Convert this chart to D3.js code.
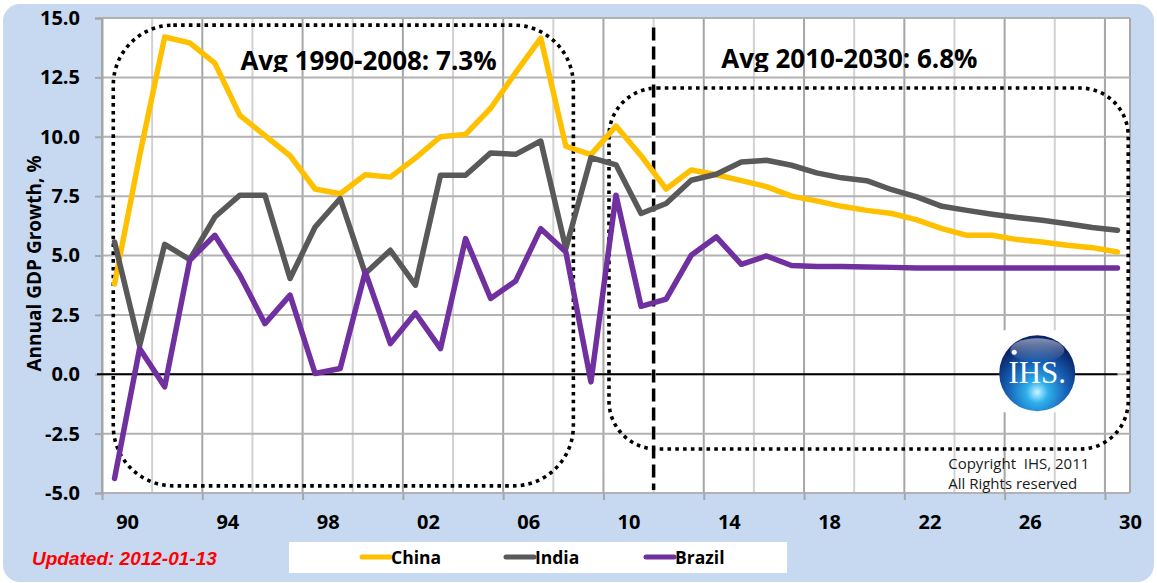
<!DOCTYPE html>
<html>
<head>
<meta charset="utf-8">
<script src="https://cdn.jsdelivr.net/npm/d3@7"></script>
<style>
  body { margin: 0; background: #fff; }
  svg { display: block; }
  text { font-family: "Open Sans", "Noto Sans", sans-serif; }
</style>
</head>
<body>
<svg id="chart" width="1157" height="583"></svg>
<script>
// categories: one per year
const years = [1990, 1991, 1992, 1993, 1994, 1995, 1996, 1997, 1998, 1999,
               2000, 2001, 2002, 2003, 2004, 2005, 2006, 2007, 2008, 2009,
               2010, 2011, 2012, 2013, 2014, 2015, 2016, 2017, 2018, 2019,
               2020, 2021, 2022, 2023, 2024, 2025, 2026, 2027, 2028, 2029, 2030];

// annual GDP growth, %
const china = [3.8, 9.2, 14.2, 13.95, 13.1, 10.9, 10.05, 9.2, 7.8, 7.6,
               8.4, 8.3, 9.1, 10.0, 10.1, 11.2, 12.7, 14.15, 9.6, 9.25,
               10.45, 9.2, 7.8, 8.6, 8.4, 8.15, 7.9, 7.5, 7.3, 7.07,
               6.9, 6.77, 6.5, 6.13, 5.85, 5.85, 5.67, 5.57, 5.43, 5.33, 5.15];
const india = [5.57, 1.2, 5.47, 4.83, 6.62, 7.54, 7.54, 4.03, 6.2, 7.4,
               4.24, 5.22, 3.75, 8.38, 8.38, 9.32, 9.26, 9.82, 5.29, 9.12,
               8.82, 6.77, 7.19, 8.17, 8.42, 8.94, 9.01, 8.8, 8.48, 8.27,
               8.15, 7.77, 7.47, 7.07, 6.9, 6.74, 6.6, 6.48, 6.34, 6.18, 6.06];
const brazil = [-4.39, 1.08, -0.53, 4.8, 5.85, 4.17, 2.13, 3.33, 0.03, 0.24,
                4.31, 1.29, 2.58, 1.08, 5.71, 3.19, 3.93, 6.13, 5.15, -0.32,
                7.54, 2.86, 3.16, 5.01, 5.78, 4.63, 4.98, 4.58, 4.54, 4.54,
                4.52, 4.5, 4.47, 4.47, 4.47, 4.47, 4.47, 4.47, 4.47, 4.47, 4.47];

const seriesNames = ["China", "India", "Brazil"];
const seriesColors = ["#FFC000", "#595959", "#7030A0"];

const yTicks = [-5, -2.5, 0, 2.5, 5, 7.5, 10, 12.5, 15];
const xLabelYears = [1990, 1994, 1998, 2002, 2006, 2010, 2014, 2018, 2022, 2026, 2030];

const width = 1157;
const height = 583;
const marginTop = 18;
const marginRight = 27;
const marginBottom = 90;
const marginLeft = 102;

const svg = d3.select("#chart");

// x: each year sits in the middle of its category slot
const xScale = d3.scaleLinear()
    .domain([years[0] - 0.5, years[years.length - 1] + 0.5])
    .range([marginLeft, width - marginRight]);

const yScale = d3.scaleLinear()
    .domain([-5, 15])
    .range([height - marginBottom, marginTop]);

const plotL = xScale.range()[0], plotR = xScale.range()[1];
const plotT = yScale.range()[1], plotB = yScale.range()[0];

// background panel
svg.append("rect")
    .attr("x", 3).attr("y", 4)
    .attr("width", width - 6).attr("height", height - 5)
    .attr("rx", 17)
    .attr("fill", "#C6D9F1");

svg.append("rect")
    .attr("x", plotL).attr("y", plotT)
    .attr("width", plotR - plotL).attr("height", plotB - plotT)
    .attr("fill", "#fff");

// vertical grid: every 2 categories, darker every 4
const grid = svg.append("g");
const boundaries = d3.range(0, years.length + 1, 2).concat([years.length]);
grid.selectAll("line.v")
    .data(boundaries)
    .join("line")
    .attr("class", "v")
    .attr("x1", (i) => xScale(years[0] - 0.5 + i))
    .attr("x2", (i) => xScale(years[0] - 0.5 + i))
    .attr("y1", plotT).attr("y2", plotB)
    .attr("stroke", (i) => (i % 4 === 0 || i === years.length) ? "#A6A6A6" : "#D2D2D2")
    .attr("stroke-width", 2);

grid.selectAll("line.h")
    .data(yTicks)
    .join("line")
    .attr("class", "h")
    .attr("x1", plotL).attr("x2", plotR)
    .attr("y1", (d) => yScale(d)).attr("y2", (d) => yScale(d))
    .attr("stroke", "#B2B2B2")
    .attr("stroke-width", 2);

// y axis
const yAxis = svg.append("g")
    .attr("transform", `translate(${plotL},0)`)
    .call(d3.axisLeft(yScale).tickValues(yTicks).tickSize(7).tickFormat((d) => d.toFixed(1)));
yAxis.select(".domain").attr("stroke", "#A6A6A6").attr("stroke-width", 2);
yAxis.selectAll(".tick line").attr("stroke", "#A6A6A6").attr("stroke-width", 2);
yAxis.selectAll(".tick text")
    .attr("x", -22)
    .attr("fill", "#000")
    .style("font-size", "20px")
    .style("font-weight", "bold");

// x axis: tick marks at slot starts, labels shifted half a slot right
const xTicks = svg.append("g")
    .attr("transform", `translate(0,${plotB})`)
    .call(d3.axisBottom(xScale).tickValues(xLabelYears.map((y) => y - 0.5)).tickSize(7).tickFormat(""));
xTicks.select(".domain").remove();
xTicks.selectAll(".tick line").attr("stroke", "#A6A6A6").attr("stroke-width", 2);

const xLabels = svg.append("g")
    .attr("transform", `translate(0,${plotB})`)
    .call(d3.axisBottom(xScale).tickValues(xLabelYears.map((y) => y + 0.5)).tickSize(0)
        .tickFormat((d) => String(d - 0.5).slice(2)));
xLabels.select(".domain").remove();
xLabels.selectAll(".tick text")
    .attr("y", 22)
    .attr("fill", "#000")
    .style("font-size", "20px")
    .style("font-weight", "bold");

// y axis title
svg.append("text")
    .attr("transform", `translate(41,${(plotT + plotB) / 2 + 8}) rotate(-90)`)
    .attr("text-anchor", "middle")
    .style("font-size", "19px")
    .style("font-weight", "bold")
    .text("Annual GDP Growth, %");

// IHS logo backdrop (hides the grid behind it)
const logoX = xScale(2026.8), logoY = yScale(0);
svg.append("rect")
    .attr("x", logoX - 40).attr("y", logoY - 44)
    .attr("width", 80).attr("height", 82)
    .attr("fill", "#fff");

// zero line
svg.append("line")
    .attr("x1", plotL - 5).attr("x2", xScale(2030))
    .attr("y1", yScale(0)).attr("y2", yScale(0))
    .attr("stroke", "#000").attr("stroke-width", 2);

// logo sphere
const defs = svg.append("defs");
const grad = defs.append("radialGradient").attr("id", "sphere")
    .attr("cx", "50%").attr("cy", "75%").attr("r", "65%");
grad.append("stop").attr("offset", "0%").attr("stop-color", "#C8F6FF");
grad.append("stop").attr("offset", "22%").attr("stop-color", "#2FB0EC");
grad.append("stop").attr("offset", "60%").attr("stop-color", "#1760B5");
grad.append("stop").attr("offset", "100%").attr("stop-color", "#0A2468");
const shine = defs.append("linearGradient").attr("id", "shine")
    .attr("x1", 0).attr("y1", 0).attr("x2", 0).attr("y2", 1);
shine.append("stop").attr("offset", "0%").attr("stop-color", "#fff").attr("stop-opacity", 0.5);
shine.append("stop").attr("offset", "100%").attr("stop-color", "#fff").attr("stop-opacity", 0);

svg.append("circle")
    .attr("cx", logoX).attr("cy", logoY - 1).attr("r", 38)
    .attr("fill", "url(#sphere)");
svg.append("ellipse")
    .attr("cx", logoX).attr("cy", logoY - 24).attr("rx", 27).attr("ry", 12)
    .attr("fill", "url(#shine)");
svg.append("text")
    .attr("x", logoX).attr("y", logoY + 9)
    .attr("text-anchor", "middle")
    .attr("fill", "#fff")
    .style("font-family", "'Liberation Serif', serif")
    .style("font-size", "31px")
    .text("IHS.");
svg.append("circle")
    .attr("cx", logoX - 23).attr("cy", logoY - 22).attr("r", 2.5)
    .attr("fill", "#fff");

// dotted period boxes
const boxes = [
  { x0: 1989.95, x1: 2008.3, y0: 14.7, y1: -4.7, r: 60 },
  { x0: 2009.72, x1: 2030.43, y0: 12.05, y1: -3.15, r: 48 }
];
svg.selectAll("rect.box")
    .data(boxes)
    .join("rect")
    .attr("class", "box")
    .attr("x", (d) => xScale(d.x0)).attr("y", (d) => yScale(d.y0))
    .attr("width", (d) => xScale(d.x1) - xScale(d.x0))
    .attr("height", (d) => yScale(d.y1) - yScale(d.y0))
    .attr("rx", (d) => d.r)
    .attr("fill", "none")
    .attr("stroke", "#000")
    .attr("stroke-width", 3.6)
    .attr("stroke-dasharray", "3.6 4.2");

// forecast divider
const divX = xScale(2011.5);
svg.append("line")
    .attr("x1", divX).attr("x2", divX)
    .attr("y1", yScale(14.6)).attr("y2", plotB - 3)
    .attr("stroke", "#fff").attr("stroke-width", 4);
svg.append("line")
    .attr("x1", divX).attr("x2", divX)
    .attr("y1", yScale(14.6)).attr("y2", plotB - 3)
    .attr("stroke", "#000").attr("stroke-width", 3.5)
    .attr("stroke-dasharray", "13 6");

// series lines
const line = d3.line()
    .x((d, i) => xScale(years[i]))
    .y((d) => yScale(d));

const seriesData = [china, india, brazil];
svg.append("g")
    .selectAll("path")
    .data(seriesData)
    .join("path")
    .attr("d", (d) => line(d))
    .attr("fill", "none")
    .attr("stroke", (d, i) => seriesColors[i])
    .attr("stroke-width", 5.5)
    .attr("stroke-linejoin", "round")
    .attr("stroke-linecap", "round");

// period averages, clipped at the bottom like the original text boxes
defs.append("clipPath").attr("id", "titleClip")
    .append("rect").attr("x", 0).attr("y", 0).attr("width", width).attr("height", 72);
const notes = svg.append("g").attr("clip-path", "url(#titleClip)");
notes.append("text")
    .attr("x", xScale(1995.02)).attr("y", 70)
    .style("font-size", "26px").style("font-weight", "bold")
    .text("Avg 1990-2008: 7.3%");
notes.append("text")
    .attr("x", xScale(2014.2)).attr("y", 68)
    .style("font-size", "26px").style("font-weight", "bold")
    .text("Avg 2010-2030: 6.8%");

// copyright
const copyX = xScale(2023.25);
const copy = svg.append("text")
    .attr("x", copyX).attr("y", 469)
    .attr("fill", "#1a1a1a")
    .style("font-size", "15px")
    .style("white-space", "pre");
copy.append("tspan").text("Copyright  IHS, 2011");
copy.append("tspan").attr("x", copyX).attr("dy", 20).text("All Rights reserved");

// updated stamp
svg.append("text")
    .attr("x", 32).attr("y", 565)
    .attr("fill", "#FF0000")
    .style("font-family", "'Liberation Sans', Arial, sans-serif")
    .style("font-size", "19px").style("font-weight", "bold").style("font-style", "italic")
    .text("Updated: 2012-01-13");

// legend
svg.append("rect")
    .attr("x", 289).attr("y", 542).attr("width", 498).attr("height", 31)
    .attr("fill", "#fff");
const legendX = [362, 506, 646];
const legend = svg.append("g")
    .selectAll("g")
    .data(seriesNames)
    .join("g")
    .attr("transform", (d, i) => `translate(${legendX[i]},557)`);
legend.append("line")
    .attr("x1", 0).attr("x2", 28)
    .attr("stroke", (d, i) => seriesColors[i])
    .attr("stroke-width", 5)
    .attr("stroke-linecap", "round");
legend.append("text")
    .attr("x", 29).attr("y", 7)
    .style("font-size", "17.5px").style("font-weight", "bold")
    .text((d) => d);
</script>
</body>
</html>
